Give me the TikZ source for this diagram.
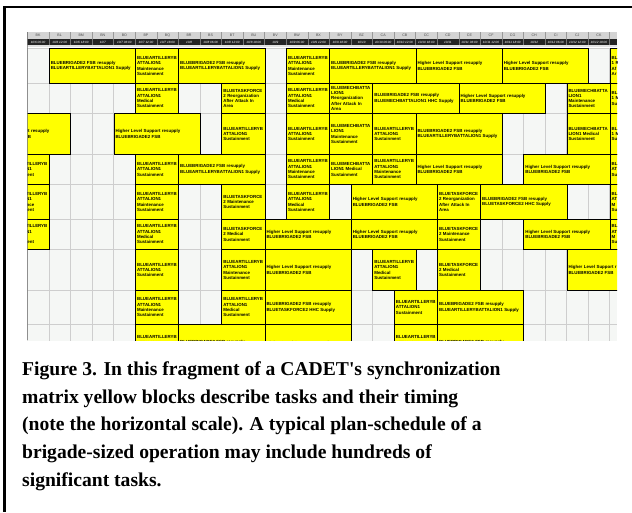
\documentclass[tikz,border=0pt]{standalone}
\usepackage{fontspec}
\usepackage{xcolor}
\setmainfont{Liberation Serif}
\newfontfamily\cellfont{Liberation Sans}

\definecolor{taskyellow}{RGB}{255,255,0}
\definecolor{cellbg}{RGB}{245,247,245}
\definecolor{gridgray}{RGB}{206,206,206}
\definecolor{headgray}{RGB}{212,212,212}
\definecolor{headdark}{RGB}{36,36,36}

\tikzset{taskbox/.style={draw=black, line width=0.9pt, fill=taskyellow,
   inner xsep=1.5pt, inner ysep=0pt, align=left,
   font=\cellfont\bfseries\fontsize{4.4}{5.3}\selectfont},
 colhead/.style={inner sep=0pt, text=black!70,
   font=\cellfont\fontsize{3.6}{4}\selectfont},
 datehead/.style={inner sep=0pt, text=white,
   font=\cellfont\itshape\fontsize{3.1}{4}\selectfont},
 captext/.style={inner sep=0pt, align=left,
   font=\bfseries\fontsize{19.6}{27.7}\selectfont},
 }

% matrix geometry (1pt = 1px)
\def\xo{27.3}
\def\colw{21.57}
\def\rowlines{{48,83,113,154,184,219,249,290,324,366}}

% task texts
\newcommand{\fsbart}{BLUEBRIGADE2 FSB resupply\\BLUEARTILLERYBATTALION1 Supply}
\newcommand{\fsbmech}{BLUEBRIGADE2 FSB resupply\\BLUEMECHBATTALION1 HHC Supply}
\newcommand{\fsbtf}{BLUEBRIGADE2 FSB resupply\\BLUETASKFORCE2 HHC Supply}
\newcommand{\hls}{Higher Level Support resupply\\BLUEBRIGADE2 FSB}
\newcommand{\artmaint}{BLUEARTILLERYB\\ATTALION1\\Maintenance\\Sustainment}
\newcommand{\artmed}{BLUEARTILLERYB\\ATTALION1\\Medical\\Sustainment}
\newcommand{\artsus}{BLUEARTILLERYB\\ATTALION1\\Sustainment}
\newcommand{\tfreorg}{BLUETASKFORCE\\2 Reorganization\\After Attack In\\Area}
\newcommand{\tfmaint}{BLUETASKFORCE\\2 Maintenance\\Sustainment}
\newcommand{\tfmed}{BLUETASKFORCE\\2 Medical\\Sustainment}
\newcommand{\mechreorg}{BLUEMECHBATTA\\LION1\\Reorganization\\After Attack In\\Area}
\newcommand{\mechmaint}{BLUEMECHBATTA\\LION1\\Maintenance\\Sustainment}
\newcommand{\mechmed}{BLUEMECHBATTA\\LION1 Medical\\Sustainment}

% name, row, first column, columns, text
\newcommand{\task}[5]{%
  \pgfmathsetmacro\ytop{\rowlines[#2-1]}%
  \pgfmathsetmacro\ybot{\rowlines[#2]}%
  \pgfmathsetmacro\xl{\xo+#3*\colw}%
  \pgfmathsetmacro\bw{#4*\colw}%
  \pgfmathsetmacro\bh{\ybot-\ytop}%
  \pgfmathsetmacro\tw{\bw-3}%
  \node[taskbox, anchor=north west, minimum width=\bw pt,
        minimum height=\bh pt, text width=\tw pt] (#1) at (\xl,\ytop) {#5};%
}

\begin{document}
\begin{tikzpicture}[x=1pt, y=-1pt]
    \useasboundingbox[fill=white] (0,0) rectangle (632,512);

    % frame
    \draw[line width=2.4pt] (3.3,7.2) -- (632,7.2);
    \draw[line width=2.4pt] (4.5,7.2) -- (4.5,512);

    \begin{scope}
        \clip (\xo,31) rectangle (617,340);
        % header
        \fill[headgray] (\xo,32) rectangle (617,39);
        \fill[headdark] (\xo,39) rectangle (617,44.6);
        \fill[gridgray!60] (\xo,44.6) rectangle (617,47);
        \foreach \i in {0,...,28} {
            \draw[black!40] ({\xo+\i*\colw},32) -- ({\xo+\i*\colw},39);
            \draw[black!55] ({\xo+\i*\colw},39) -- ({\xo+\i*\colw},44.6);
        }
        \foreach \c[count=\i from 0] in {BK,BL,BM,BN,BO,BP,BQ,BR,BS,BT,BU,BV,BW,BX,
                                         BY,BZ,CA,CB,CC,CD,CE,CF,CG,CH,CI,CJ,CK} {
            \node[colhead] (h\i) at ({\xo+(\i+0.5)*\colw},35.6) {\c};
        }
        \foreach \d[count=\i from 0] in {10/6 06:00,10/6 12:00,10/6 18:00,10/7,10/7 06:00,
                                         10/7 12:00,10/7 18:00,10/8,10/8 06:00,10/8 12:00,
                                         10/8 18:00,10/9,10/9 06:00,10/9 12:00,10/9 18:00,
                                         10/10,10/10 06:00,10/10 12:00,10/10 18:00,10/11,
                                         10/11 06:00,10/11 12:00,10/11 18:00,10/12,
                                         10/12 06:00,10/12 12:00,10/12 18:00} {
            \node[datehead] (d\i) at ({\xo+(\i+0.5)*\colw},41.9) {\d};
        }

        % empty cells
        \fill[cellbg] (\xo,47.5) rectangle (617,366);
        \foreach \i in {0,...,28}
            \draw[gridgray] ({\xo+\i*\colw},47.5) -- ({\xo+\i*\colw},366);
        \foreach \yy in {48,83,113,154,184,219,249,290,324}
            \draw[gridgray] (\xo,\yy) -- (617,\yy);

        % row 1
        \task{r1a}{1}{1}{4}{\fsbart}
        \task{r1b}{1}{5}{2}{\artmaint}
        \task{r1c}{1}{7}{4}{\fsbart}
        \task{r1d}{1}{12}{2}{\artmaint}
        \task{r1e}{1}{14}{4}{\fsbart}
        \task{r1f}{1}{18}{4}{\hls}
        \task{r1g}{1}{22}{4}{\hls}
        \task{r1h}{1}{27}{2}{BL\\1 R\\Af\\Ar}
        % row 2
        \task{r2a}{2}{5}{2}{\artmed}
        \task{r2b}{2}{9}{2}{\tfreorg}
        \task{r2c}{2}{12}{2}{\artmed}
        \task{r2d}{2}{14}{2}{\mechreorg}
        \task{r2e}{2}{16}{4}{\fsbmech}
        \task{r2f}{2}{20}{4}{\hls}
        \task{r2g}{2}{25}{2}{\mechmaint}
        \task{r2h}{2}{27}{2}{BL\\1 M\\Su}
        % row 3
        \task{r3a}{3}{-2}{4}{\hspace*{40.3pt}rt resupply\\\hspace*{41.8pt}B}
        \task{r3b}{3}{4}{4}{\hls}
        \task{r3c}{3}{9}{2}{\artsus}
        \task{r3d}{3}{12}{2}{\artsus}
        \task{r3e}{3}{14}{2}{\mechmaint}
        \task{r3f}{3}{16}{2}{\artsus}
        \task{r3g}{3}{18}{4}{\fsbart}
        \task{r3h}{3}{25}{2}{\mechmed}
        \task{r3i}{3}{27}{2}{BL\\1 M\\Su}
        % row 4
        \task{r4a}{4}{-1}{2}{\artsus}
        \task{r4b}{4}{5}{2}{\artsus}
        \task{r4c}{4}{7}{4}{\fsbart}
        \task{r4d}{4}{12}{2}{\artmaint}
        \task{r4e}{4}{14}{2}{\mechmed}
        \task{r4f}{4}{16}{2}{\artmaint}
        \task{r4g}{4}{18}{4}{\hls}
        \task{r4h}{4}{23}{4}{\hls}
        \task{r4i}{4}{27}{2}{BL\\AT\\Su}
        % row 5
        \task{r5a}{5}{-1}{2}{\artmaint}
        \task{r5b}{5}{5}{2}{\artmaint}
        \task{r5c}{5}{9}{2}{\tfmaint}
        \task{r5d}{5}{12}{2}{\artmed}
        \task{r5e}{5}{15}{4}{\hls}
        \task{r5f}{5}{19}{2}{\tfreorg}
        \task{r5g}{5}{21}{4}{\fsbtf}
        \task{r5h}{5}{27}{2}{BL\\AT\\M\\Su}
        % row 6
        \task{r6a}{6}{-1}{2}{\artmed}
        \task{r6b}{6}{5}{2}{\artmed}
        \task{r6c}{6}{9}{2}{\tfmed}
        \task{r6d}{6}{11}{4}{\hls}
        \task{r6e}{6}{15}{4}{\hls}
        \task{r6f}{6}{19}{2}{\tfmaint}
        \task{r6g}{6}{23}{4}{\hls}
        \task{r6h}{6}{27}{2}{BL\\AT\\M\\Su}
        % row 7
        \task{r7a}{7}{5}{2}{\artsus}
        \task{r7b}{7}{9}{2}{\artmaint}
        \task{r7c}{7}{11}{4}{\hls}
        \task{r7d}{7}{16}{2}{\artmed}
        \task{r7e}{7}{19}{2}{\tfmed}
        \task{r7f}{7}{25}{4}{Higher Level Support r\\BLUEBRIGADE2 FSB}
        % row 8
        \task{r8a}{8}{5}{2}{\artmaint}
        \task{r8b}{8}{9}{2}{\artmed}
        \task{r8c}{8}{11}{4}{\fsbtf}
        \task{r8d}{8}{17}{2}{\artsus}
        \task{r8e}{8}{19}{4}{\fsbart}
        % row 9
        \task{r9a}{9}{5}{2}{\artmaint}
        \task{r9b}{9}{7}{4}{\fsbart}
        \task{r9c}{9}{11}{4}{\hls}
        \task{r9d}{9}{17}{2}{\artmaint}
        \task{r9e}{9}{19}{4}{\fsbart}

        \draw[black!60] (\xo,32) -- (\xo,340);
    \end{scope}

    \node[captext, anchor=north west] (caption) at (22,361.5)
        {Figure 3. In this fragment of a CADET\textquotesingle s synchronization\\
         matrix yellow blocks describe tasks and their timing\\
         (note the horizontal scale). A typical plan-schedule of a\\
         brigade-sized operation may include hundreds of\\
         significant tasks.};
\end{tikzpicture}
\end{document}
